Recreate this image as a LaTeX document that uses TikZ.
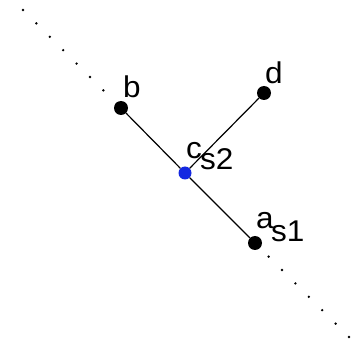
\documentclass[tikz,border=0pt]{standalone}
\usepackage{fontspec}
\setmainfont{Liberation Sans}
\newfontfamily\lblfont[FakeStretch=1.05]{Liberation Sans}
\definecolor{ptblue}{RGB}{20,40,225}
\begin{document}
\begin{tikzpicture}[x=1pt,y=-1pt,
  pt/.style={circle,fill=black,inner sep=0pt,minimum size=14pt},
  ptc/.style={circle,fill=ptblue,inner sep=0pt,minimum size=13pt},
  lbl/.style={anchor=base west,inner sep=0pt,font=\lblfont\fontsize{30}{30}\selectfont},
  seg/.style={draw=black,line width=1.2pt},
  dotline/.style={draw=black,line width=2.6pt,line cap=round,dash pattern=on 0pt off 18.95pt}]
\useasboundingbox (0,0) rectangle (357,342);
\fill[white] (0,0) rectangle (357,342);
\coordinate (tl) at (23,10);
\coordinate (br) at (349,337);
\node[pt] (b) at (121,108) {};
\node[ptc] (c) at (185,173) {};
\node[pt] (a) at (255,243) {};
\node[pt] (d) at (264,93) {};
\draw[dotline] (tl) -- (b.center);
\draw[dotline] (br) -- (a.center);
\draw[seg] (b) -- (c);
\draw[seg] (c) -- (a);
\draw[seg] (d) -- (c);
\node[lbl] (lb) at (123,98) {b};
\node[lbl] (ld) at (265,84) {d};
\node[lbl] (lc) at (186,159) {c};
\node[lbl] (ls2) at (200,170) {s2};
\node[lbl] (la) at (256,229) {a};
\node[lbl] (ls1) at (271,242) {s1};
\end{tikzpicture}
\end{document}
